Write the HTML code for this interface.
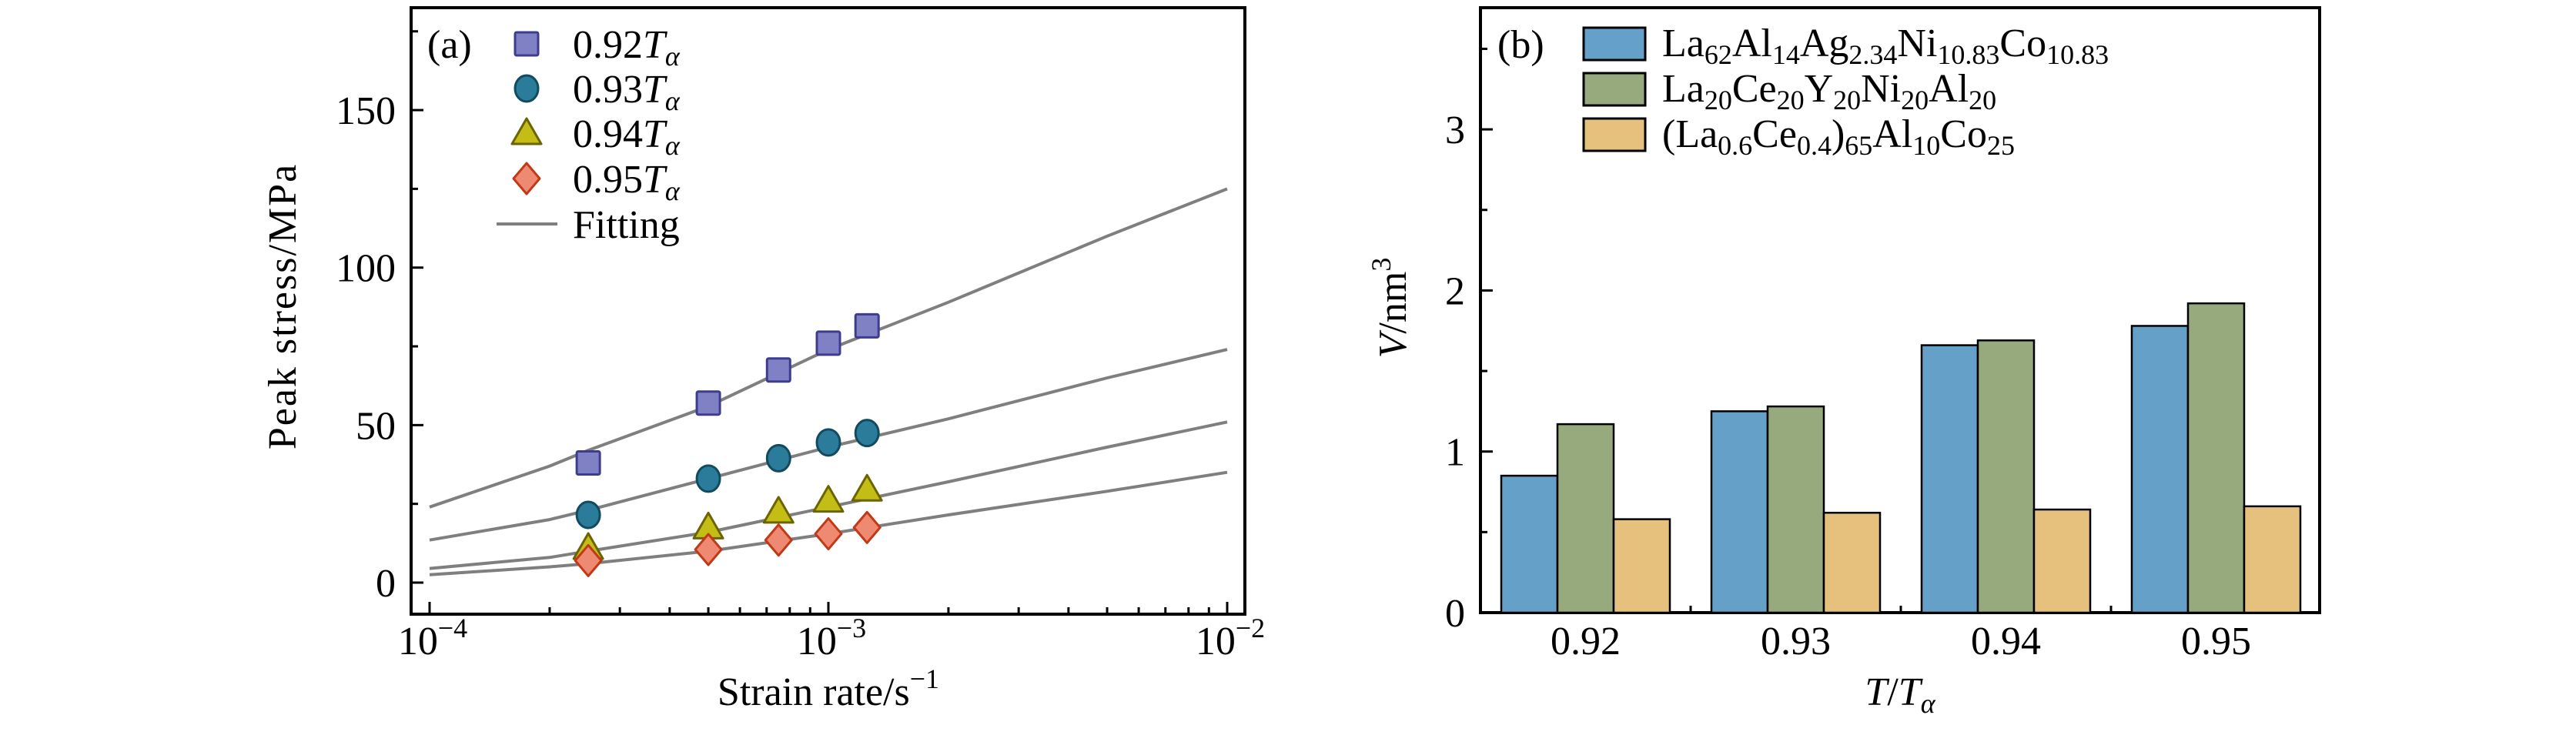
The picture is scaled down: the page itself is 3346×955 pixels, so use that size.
<!DOCTYPE html>
<html><head><meta charset="utf-8"><style>
html,body{margin:0;padding:0;background:#fff;}
svg{display:block;font-family:"Liberation Serif","DejaVu Serif",serif;}
</style></head><body>
<svg id="fig" width="3346" height="955" viewBox="0 0 3346 955" xmlns="http://www.w3.org/2000/svg">
<g id="pa"></g>
<g id="pb"></g>
</svg>
<script>
// ---- Panel (a) data ----
const rates = [2.5e-4, 5e-4, 7.5e-4, 1e-3, 1.25e-3];
const s092 = [38, 57, 67.5, 76, 81.5];
const s093 = [21.5, 33, 39.5, 44.5, 47.5];
const s094 = [11, 17.5, 22.5, 26, 29.5];
const s095 = [7, 10.5, 13.5, 15.5, 17.5];
const fitRates = [1e-4, 2e-4, 2.5e-4, 5e-4, 1e-3, 2e-3, 5e-3, 1e-2];
const fit092 = [24, 37, 42, 56, 74, 89, 110, 125];
const fit093 = [13.5, 20, 23, 33, 43, 52, 65, 74];
const fit094 = [4.5, 8, 10, 16, 24, 32, 43, 51];
const fit095 = [2.5, 5, 6, 10, 15.5, 21.5, 29, 35];
const yTicksA = [0, 50, 100, 150];
const xTickExp = [-4, -3, -2];
// ---- Panel (b) data ----
const cats = ["0.92", "0.93", "0.94", "0.95"];
const vBlue = [0.85, 1.25, 1.66, 1.78];
const vGreen = [1.17, 1.28, 1.69, 1.92];
const vOrange = [0.58, 0.62, 0.64, 0.66];
const yTicksB = [0, 1, 2, 3];

const NS = "http://www.w3.org/2000/svg";
const FS = 52, SFS = 36;
function mk(parent, tag, attrs, text) {
  const e = document.createElementNS(NS, tag);
  for (const k in attrs) e.setAttribute(k, attrs[k]);
  if (text !== undefined) e.textContent = text;
  parent.appendChild(e);
  return e;
}
const pa = document.getElementById('pa');
const pb = document.getElementById('pb');

const AL = 534, AR = 1617, AT = 10, AB = 798;
const xA = v => 558 + (Math.log10(v) + 4) * 518;
const yA = v => 757 - v * 4.093;

let e = mk(pa, 'rect', {x: AL, y: AT, width: AR - AL, height: AB - AT, fill: 'none', stroke: '#000', 'stroke-width': 4});


for (let v = 0; v <= 175; v += 25) {
  const major = yTicksA.includes(v);
  e = mk(pa, 'line', {x1: AL, x2: AL + (major ? 16 : 9), y1: yA(v), y2: yA(v), stroke: '#000', 'stroke-width': 3});
  
  
}
yTicksA.forEach(v => {
  e = mk(pa, 'text', {x: 514, y: yA(v) + 18, 'font-size': FS, 'text-anchor': 'end'}, String(v));
  
  
});
for (let d = -4; d < -2; d++) {
  for (let m = 1; m <= 9; m++) {
    const v = m * Math.pow(10, d);
    e = mk(pa, 'line', {x1: xA(v), x2: xA(v), y1: AB, y2: AB - (m === 1 ? 16 : 9), stroke: '#000', 'stroke-width': 3});
    
    
  }
}
e = mk(pa, 'line', {x1: xA(1e-2), x2: xA(1e-2), y1: AB, y2: AB - 16, stroke: '#000', 'stroke-width': 3});


xTickExp.forEach(p => {
  const t = mk(pa, 'text', {x: xA(Math.pow(10, p)) + 4, y: 850, 'font-size': FS, 'text-anchor': 'middle'});
  
  
  mk(t, 'tspan', {}, '10');
  mk(t, 'tspan', {'baseline-shift': '22', 'font-size': SFS}, '\u2212' + Math.abs(p));
});
e = mk(pa, 'text', {x: 0, y: 0, 'font-size': FS, 'text-anchor': 'middle', transform: 'translate(384,398) rotate(-90)', 'letter-spacing': 2}, 'Peak stress/MPa');


e = mk(pa, 'text', {x: 1076, y: 916, 'font-size': FS, 'text-anchor': 'middle'});


mk(e, 'tspan', {}, 'Strain rate/s');
mk(e, 'tspan', {'baseline-shift': '22', 'font-size': SFS}, '\u22121');

[fit092, fit093, fit094, fit095].forEach((f, i) => {
  const pts = fitRates.map((r, j) => xA(r).toFixed(1) + ',' + yA(f[j]).toFixed(1)).join(' ');
  const l = mk(pa, 'polyline', {points: pts, fill: 'none', stroke: '#7f7f7f', 'stroke-width': 4, 'stroke-linejoin': 'round'});
  
  
});
function marker(g, type, cx, cy) {
  if (type === 'sq') return mk(g, 'rect', {x: cx - 15, y: cy - 15, width: 30, height: 30, rx: 2, fill: '#8080c4', stroke: '#3d3d8f', 'stroke-width': 3});
  if (type === 'ci') return mk(g, 'ellipse', {cx: cx, cy: cy, rx: 15, ry: 17, fill: '#2a7c9a', stroke: '#124a5e', 'stroke-width': 3});
  if (type === 'tr') return mk(g, 'polygon', {points: `${cx},${cy - 19} ${cx + 19},${cy + 14} ${cx - 19},${cy + 14}`, fill: '#c4bd16', stroke: '#6b6400', 'stroke-width': 3, 'stroke-linejoin': 'round'});
  return mk(g, 'polygon', {points: `${cx},${cy - 20} ${cx + 17},${cy} ${cx},${cy + 20} ${cx - 17},${cy}`, fill: '#ef8a72', stroke: '#c03a1a', 'stroke-width': 3, 'stroke-linejoin': 'round'});
}
const seriesA = [[s092, 'sq'], [s093, 'ci'], [s094, 'tr'], [s095, 'di']];
seriesA.forEach(([vals, t], i) => {
  vals.forEach((v, j) => {
    const m = marker(pa, t, xA(rates[j]), yA(v));
    
    
  });
});
e = mk(pa, 'text', {x: 555, y: 75, 'font-size': FS}, '(a)');


const legA = ['0.92', '0.93', '0.94', '0.95'];
const legY = [57, 115, 173, 232];
legA.forEach((s, i) => {
  const m = marker(pa, seriesA[i][1], 684, legY[i]);
  
  
  const t = mk(pa, 'text', {x: 744, y: legY[i] + 18, 'font-size': FS});
  
  
  mk(t, 'tspan', {}, s);
  mk(t, 'tspan', {'font-style': 'italic'}, 'T');
  mk(t, 'tspan', {'baseline-shift': '-10', 'font-size': SFS, 'font-style': 'italic'}, 'α');
});
e = mk(pa, 'line', {x1: 645, x2: 724, y1: 291, y2: 291, stroke: '#7f7f7f', 'stroke-width': 4});


e = mk(pa, 'text', {x: 744, y: 309, 'font-size': FS}, 'Fitting');



// ---- Panel (b) ----
const BL = 1923, BR = 3013, BT = 10, BB = 796;
const groupW = 273, barW = 73, firstLeft = 1950;
const xB = i => firstLeft + i * groupW;
const yB = v => BB - v * 209.3;
e = mk(pb, 'rect', {x: BL, y: BT, width: BR - BL, height: BB - BT, fill: 'none', stroke: '#000', 'stroke-width': 4});


for (let v = 0; v <= 3.5; v += 0.5) {
  const major = Number.isInteger(v);
  e = mk(pb, 'line', {x1: BL, x2: BL + (major ? 16 : 9), y1: yB(v), y2: yB(v), stroke: '#000', 'stroke-width': 3});
  
  
}
yTicksB.forEach(v => {
  e = mk(pb, 'text', {x: 1903, y: yB(v) + 18, 'font-size': FS, 'text-anchor': 'end'}, String(v));
  
  
});
const colors = [['#64a0c8', vBlue], ['#96aa7e', vGreen], ['#e6c17e', vOrange]];
cats.forEach((c, i) => {
  colors.forEach(([col, vals], k) => {
    const b = mk(pb, 'rect', {x: xB(i) + k * barW, y: yB(vals[i]), width: barW, height: BB - yB(vals[i]), fill: col, stroke: '#000', 'stroke-width': 2.5});
    
    
  });
  const t = mk(pb, 'text', {x: xB(i) + 1.5 * barW, y: 850, 'font-size': FS, 'text-anchor': 'middle'}, c);
  
  
  if (i > 0) {
    const tk = mk(pb, 'line', {x1: xB(i) - 27, x2: xB(i) - 27, y1: BB, y2: BB - 9, stroke: '#000', 'stroke-width': 3});
    
    
  }
});
e = mk(pb, 'text', {x: 0, y: 0, 'font-size': FS, 'text-anchor': 'middle', transform: 'translate(1826,400) rotate(-90)'});


mk(e, 'tspan', {'font-style': 'italic'}, 'V');
mk(e, 'tspan', {}, '/nm');
mk(e, 'tspan', {'baseline-shift': '20', 'font-size': SFS}, '3');
e = mk(pb, 'text', {x: 2468, y: 916, 'font-size': FS, 'text-anchor': 'middle'});


mk(e, 'tspan', {'font-style': 'italic'}, 'T');
mk(e, 'tspan', {}, '/');
mk(e, 'tspan', {'font-style': 'italic'}, 'T');
mk(e, 'tspan', {'baseline-shift': '-10', 'font-size': SFS, 'font-style': 'italic'}, 'α');
e = mk(pb, 'text', {x: 1945, y: 75, 'font-size': FS}, '(b)');


const legB = [
  [['La', '62'], ['Al', '14'], ['Ag', '2.34'], ['Ni', '10.83'], ['Co', '10.83']],
  [['La', '20'], ['Ce', '20'], ['Y', '20'], ['Ni', '20'], ['Al', '20']],
  [['(La', '0.6'], ['Ce', '0.4'], [')', '65'], ['Al', '10'], ['Co', '25']]
];
legB.forEach((parts, i) => {
  const y0 = 36 + i * 59;
  const r = mk(pb, 'rect', {x: 2057, y: y0, width: 80, height: 42, fill: colors[i][0], stroke: '#000', 'stroke-width': 3});
  
  
  const t = mk(pb, 'text', {x: 2159, y: y0 + 37, 'font-size': FS});
  
  
  parts.forEach(([a, s]) => {
    mk(t, 'tspan', {}, a);
    mk(t, 'tspan', {'baseline-shift': '-10', 'font-size': SFS}, s);
  });
});
</script>
</body></html>
